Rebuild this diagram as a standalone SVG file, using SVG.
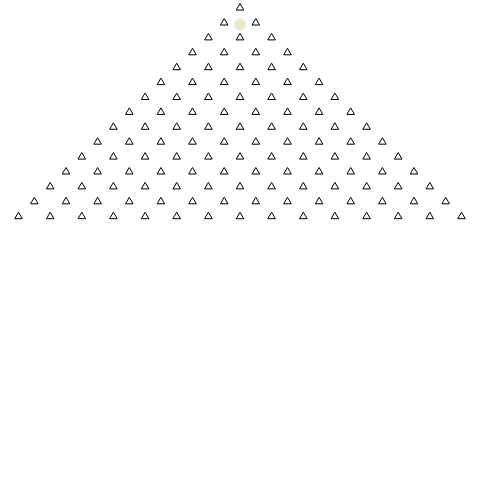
<svg xmlns="http://www.w3.org/2000/svg" xmlns:xlink="http://www.w3.org/1999/xlink" width="480" height="480" viewBox="0 0 480 480">
<style>
.t{fill:#fff;stroke:#000;stroke-width:1;stroke-linejoin:miter}
.c{fill:#eee9cc;stroke:none}
</style>
<defs><path id="tri" class="t" d="M0,-3.5 L3.8,3 L-3.8,3 Z"/></defs>
<rect width="480" height="480" fill="#fff"/>
<g id="connectors"></g>
<g id="highlight"><circle class="c" cx="240" cy="24.5" r="6"/></g>
<g transform="translate(0,0.6)">
<g id="row0"><g id="n0-0"><use xlink:href="#tri" x="240" y="6.5"/></g></g>
<g id="row1"><g id="n1-0"><use xlink:href="#tri" x="224.2" y="21.4"/></g><g id="n1-1"><use xlink:href="#tri" x="255.8" y="21.4"/></g></g>
<g id="row2"><g id="n2-0"><use xlink:href="#tri" x="208.4" y="36.3"/></g><g id="n2-1"><use xlink:href="#tri" x="240" y="36.3"/></g><g id="n2-2"><use xlink:href="#tri" x="271.6" y="36.3"/></g></g>
<g id="row3"><g id="n3-0"><use xlink:href="#tri" x="192.5" y="51.2"/></g><g id="n3-1"><use xlink:href="#tri" x="224.2" y="51.2"/></g><g id="n3-2"><use xlink:href="#tri" x="255.8" y="51.2"/></g><g id="n3-3"><use xlink:href="#tri" x="287.5" y="51.2"/></g></g>
<g id="row4"><g id="n4-0"><use xlink:href="#tri" x="176.7" y="66.1"/></g><g id="n4-1"><use xlink:href="#tri" x="208.4" y="66.1"/></g><g id="n4-2"><use xlink:href="#tri" x="240" y="66.1"/></g><g id="n4-3"><use xlink:href="#tri" x="271.6" y="66.1"/></g><g id="n4-4"><use xlink:href="#tri" x="303.3" y="66.1"/></g></g>
<g id="row5"><g id="n5-0"><use xlink:href="#tri" x="160.9" y="81"/></g><g id="n5-1"><use xlink:href="#tri" x="192.5" y="81"/></g><g id="n5-2"><use xlink:href="#tri" x="224.2" y="81"/></g><g id="n5-3"><use xlink:href="#tri" x="255.8" y="81"/></g><g id="n5-4"><use xlink:href="#tri" x="287.5" y="81"/></g><g id="n5-5"><use xlink:href="#tri" x="319.1" y="81"/></g></g>
<g id="row6"><g id="n6-0"><use xlink:href="#tri" x="145.1" y="95.9"/></g><g id="n6-1"><use xlink:href="#tri" x="176.7" y="95.9"/></g><g id="n6-2"><use xlink:href="#tri" x="208.4" y="95.9"/></g><g id="n6-3"><use xlink:href="#tri" x="240" y="95.9"/></g><g id="n6-4"><use xlink:href="#tri" x="271.6" y="95.9"/></g><g id="n6-5"><use xlink:href="#tri" x="303.3" y="95.9"/></g><g id="n6-6"><use xlink:href="#tri" x="334.9" y="95.9"/></g></g>
<g id="row7"><g id="n7-0"><use xlink:href="#tri" x="129.3" y="110.8"/></g><g id="n7-1"><use xlink:href="#tri" x="160.9" y="110.8"/></g><g id="n7-2"><use xlink:href="#tri" x="192.5" y="110.8"/></g><g id="n7-3"><use xlink:href="#tri" x="224.2" y="110.8"/></g><g id="n7-4"><use xlink:href="#tri" x="255.8" y="110.8"/></g><g id="n7-5"><use xlink:href="#tri" x="287.5" y="110.8"/></g><g id="n7-6"><use xlink:href="#tri" x="319.1" y="110.8"/></g><g id="n7-7"><use xlink:href="#tri" x="350.7" y="110.8"/></g></g>
<g id="row8"><g id="n8-0"><use xlink:href="#tri" x="113.4" y="125.7"/></g><g id="n8-1"><use xlink:href="#tri" x="145.1" y="125.7"/></g><g id="n8-2"><use xlink:href="#tri" x="176.7" y="125.7"/></g><g id="n8-3"><use xlink:href="#tri" x="208.4" y="125.7"/></g><g id="n8-4"><use xlink:href="#tri" x="240" y="125.7"/></g><g id="n8-5"><use xlink:href="#tri" x="271.6" y="125.7"/></g><g id="n8-6"><use xlink:href="#tri" x="303.3" y="125.7"/></g><g id="n8-7"><use xlink:href="#tri" x="334.9" y="125.7"/></g><g id="n8-8"><use xlink:href="#tri" x="366.6" y="125.7"/></g></g>
<g id="row9"><g id="n9-0"><use xlink:href="#tri" x="97.6" y="140.6"/></g><g id="n9-1"><use xlink:href="#tri" x="129.3" y="140.6"/></g><g id="n9-2"><use xlink:href="#tri" x="160.9" y="140.6"/></g><g id="n9-3"><use xlink:href="#tri" x="192.5" y="140.6"/></g><g id="n9-4"><use xlink:href="#tri" x="224.2" y="140.6"/></g><g id="n9-5"><use xlink:href="#tri" x="255.8" y="140.6"/></g><g id="n9-6"><use xlink:href="#tri" x="287.5" y="140.6"/></g><g id="n9-7"><use xlink:href="#tri" x="319.1" y="140.6"/></g><g id="n9-8"><use xlink:href="#tri" x="350.7" y="140.6"/></g><g id="n9-9"><use xlink:href="#tri" x="382.4" y="140.6"/></g></g>
<g id="row10"><g id="n10-0"><use xlink:href="#tri" x="81.8" y="155.5"/></g><g id="n10-1"><use xlink:href="#tri" x="113.4" y="155.5"/></g><g id="n10-2"><use xlink:href="#tri" x="145.1" y="155.5"/></g><g id="n10-3"><use xlink:href="#tri" x="176.7" y="155.5"/></g><g id="n10-4"><use xlink:href="#tri" x="208.4" y="155.5"/></g><g id="n10-5"><use xlink:href="#tri" x="240" y="155.5"/></g><g id="n10-6"><use xlink:href="#tri" x="271.6" y="155.5"/></g><g id="n10-7"><use xlink:href="#tri" x="303.3" y="155.5"/></g><g id="n10-8"><use xlink:href="#tri" x="334.9" y="155.5"/></g><g id="n10-9"><use xlink:href="#tri" x="366.6" y="155.5"/></g><g id="n10-10"><use xlink:href="#tri" x="398.2" y="155.5"/></g></g>
<g id="row11"><g id="n11-0"><use xlink:href="#tri" x="66" y="170.4"/></g><g id="n11-1"><use xlink:href="#tri" x="97.6" y="170.4"/></g><g id="n11-2"><use xlink:href="#tri" x="129.3" y="170.4"/></g><g id="n11-3"><use xlink:href="#tri" x="160.9" y="170.4"/></g><g id="n11-4"><use xlink:href="#tri" x="192.5" y="170.4"/></g><g id="n11-5"><use xlink:href="#tri" x="224.2" y="170.4"/></g><g id="n11-6"><use xlink:href="#tri" x="255.8" y="170.4"/></g><g id="n11-7"><use xlink:href="#tri" x="287.5" y="170.4"/></g><g id="n11-8"><use xlink:href="#tri" x="319.1" y="170.4"/></g><g id="n11-9"><use xlink:href="#tri" x="350.7" y="170.4"/></g><g id="n11-10"><use xlink:href="#tri" x="382.4" y="170.4"/></g><g id="n11-11"><use xlink:href="#tri" x="414" y="170.4"/></g></g>
<g id="row12"><g id="n12-0"><use xlink:href="#tri" x="50.2" y="185.3"/></g><g id="n12-1"><use xlink:href="#tri" x="81.8" y="185.3"/></g><g id="n12-2"><use xlink:href="#tri" x="113.4" y="185.3"/></g><g id="n12-3"><use xlink:href="#tri" x="145.1" y="185.3"/></g><g id="n12-4"><use xlink:href="#tri" x="176.7" y="185.3"/></g><g id="n12-5"><use xlink:href="#tri" x="208.4" y="185.3"/></g><g id="n12-6"><use xlink:href="#tri" x="240" y="185.3"/></g><g id="n12-7"><use xlink:href="#tri" x="271.6" y="185.3"/></g><g id="n12-8"><use xlink:href="#tri" x="303.3" y="185.3"/></g><g id="n12-9"><use xlink:href="#tri" x="334.9" y="185.3"/></g><g id="n12-10"><use xlink:href="#tri" x="366.6" y="185.3"/></g><g id="n12-11"><use xlink:href="#tri" x="398.2" y="185.3"/></g><g id="n12-12"><use xlink:href="#tri" x="429.8" y="185.3"/></g></g>
<g id="row13"><g id="n13-0"><use xlink:href="#tri" x="34.3" y="200.2"/></g><g id="n13-1"><use xlink:href="#tri" x="66" y="200.2"/></g><g id="n13-2"><use xlink:href="#tri" x="97.6" y="200.2"/></g><g id="n13-3"><use xlink:href="#tri" x="129.3" y="200.2"/></g><g id="n13-4"><use xlink:href="#tri" x="160.9" y="200.2"/></g><g id="n13-5"><use xlink:href="#tri" x="192.5" y="200.2"/></g><g id="n13-6"><use xlink:href="#tri" x="224.2" y="200.2"/></g><g id="n13-7"><use xlink:href="#tri" x="255.8" y="200.2"/></g><g id="n13-8"><use xlink:href="#tri" x="287.5" y="200.2"/></g><g id="n13-9"><use xlink:href="#tri" x="319.1" y="200.2"/></g><g id="n13-10"><use xlink:href="#tri" x="350.7" y="200.2"/></g><g id="n13-11"><use xlink:href="#tri" x="382.4" y="200.2"/></g><g id="n13-12"><use xlink:href="#tri" x="414" y="200.2"/></g><g id="n13-13"><use xlink:href="#tri" x="445.7" y="200.2"/></g></g>
<g id="row14"><g id="n14-0"><use xlink:href="#tri" x="18.5" y="215.1"/></g><g id="n14-1"><use xlink:href="#tri" x="50.2" y="215.1"/></g><g id="n14-2"><use xlink:href="#tri" x="81.8" y="215.1"/></g><g id="n14-3"><use xlink:href="#tri" x="113.4" y="215.1"/></g><g id="n14-4"><use xlink:href="#tri" x="145.1" y="215.1"/></g><g id="n14-5"><use xlink:href="#tri" x="176.7" y="215.1"/></g><g id="n14-6"><use xlink:href="#tri" x="208.4" y="215.1"/></g><g id="n14-7"><use xlink:href="#tri" x="240" y="215.1"/></g><g id="n14-8"><use xlink:href="#tri" x="271.6" y="215.1"/></g><g id="n14-9"><use xlink:href="#tri" x="303.3" y="215.1"/></g><g id="n14-10"><use xlink:href="#tri" x="334.9" y="215.1"/></g><g id="n14-11"><use xlink:href="#tri" x="366.6" y="215.1"/></g><g id="n14-12"><use xlink:href="#tri" x="398.2" y="215.1"/></g><g id="n14-13"><use xlink:href="#tri" x="429.8" y="215.1"/></g><g id="n14-14"><use xlink:href="#tri" x="461.5" y="215.1"/></g></g>
</g>
</svg>
